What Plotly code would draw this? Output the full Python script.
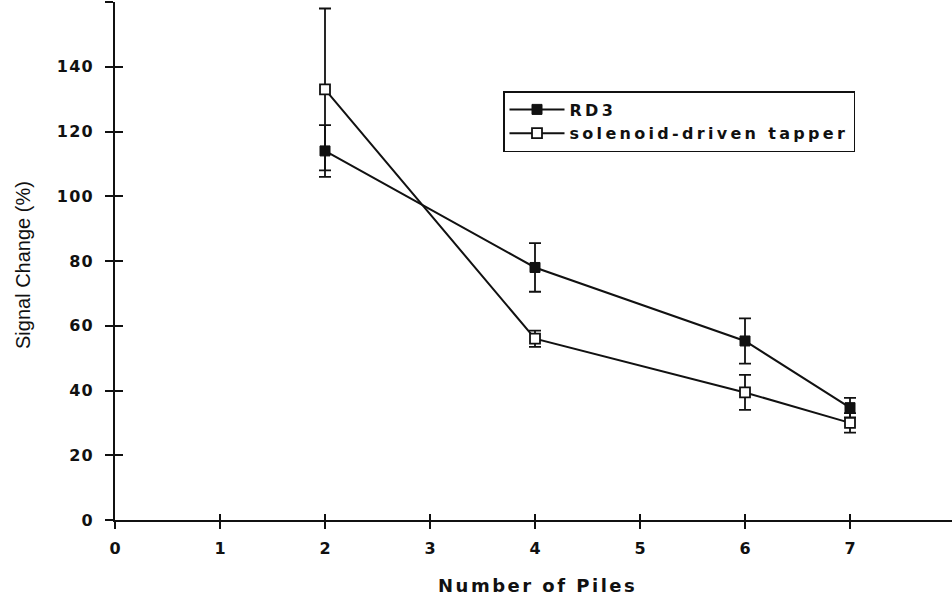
import plotly.graph_objects as go

# Data
piles = [2, 4, 6, 7]
rd3 = [114, 78, 55.3, 34.7]
rd3_err = [8, 7.5, 7, 3]
tapper = [133, 56, 39.4, 30]
tapper_err = [25, 2.5, 5.4, 3]

x_ticks = [0, 1, 2, 3, 4, 5, 6, 7, 8]
y_ticks = [0, 20, 40, 60, 80, 100, 120, 140, 160]

FONT = "DejaVu Sans"
INK = "#111111"


def spaced(s, px):
    return f'<span style="letter-spacing:{px}px">{s}</span>'


fig = go.Figure()

fig.add_trace(go.Scatter(
    x=piles, y=rd3, name=spaced("RD3", 3.3), mode="lines+markers",
    line=dict(color=INK, width=2),
    marker=dict(symbol="square", size=10, color=INK, line=dict(color=INK, width=1)),
    error_y=dict(type="data", array=rd3_err, visible=True, color=INK, thickness=1.8, width=6),
    legendgroup="a",
))
fig.add_trace(go.Scatter(
    x=piles, y=tapper, name=spaced("solenoid-driven tapper", 3.3), mode="lines+markers",
    line=dict(color=INK, width=2),
    marker=dict(symbol="square", size=10, color="white", line=dict(color=INK, width=1.8)),
    error_y=dict(type="data", array=tapper_err, visible=True, color=INK, thickness=1.8, width=6),
    legendgroup="b",
))
# invisible trace to activate the overlay axes (inner half of crossing ticks)
fig.add_trace(go.Scatter(x=[None], y=[None], xaxis="x2", yaxis="y2", showlegend=False,
                         hoverinfo="skip"))

XR = [0, 837 / 105.0]
YR = [0, 160]

tickfont = dict(family=FONT, size=16, color=INK, weight="bold")
y_text = [spaced(str(v), 1.2) for v in y_ticks]
x_text = [str(v) for v in x_ticks]

fig.update_layout(
    width=952, height=598,
    margin=dict(l=115, r=0, t=2, b=78),
    paper_bgcolor="white", plot_bgcolor="white",
    showlegend=True,
    legend=dict(
        x=(503 - 115) / 837, y=1 - (91 - 2) / 518, xanchor="left", yanchor="top",
        bordercolor=INK, borderwidth=1.5, bgcolor="white",
        font=dict(family=FONT, size=16, color=INK, weight="bold"),
        traceorder="grouped", tracegroupgap=0, itemwidth=55,
    ),
    xaxis=dict(
        range=XR, tickvals=x_ticks, ticktext=x_text, ticks="outside", ticklen=7, tickwidth=1.5,
        tickcolor=INK, showline=True, linecolor=INK, linewidth=2, showgrid=False,
        zeroline=False, tickfont=tickfont, ticklabelstandoff=6,
    ),
    yaxis=dict(
        range=YR, tickvals=y_ticks, ticktext=y_text, ticks="outside", ticklen=8, tickwidth=1.5,
        tickcolor=INK, showline=True, linecolor=INK, linewidth=2, showgrid=False,
        zeroline=False, tickfont=tickfont, ticklabelstandoff=8,
    ),
    xaxis2=dict(
        range=XR, tickvals=x_ticks, overlaying="x", anchor="y2", ticks="inside",
        ticklen=6, tickwidth=1.5, tickcolor=INK, showticklabels=False,
        showline=False, showgrid=False, zeroline=False,
    ),
    yaxis2=dict(
        range=YR, tickvals=y_ticks, overlaying="y", anchor="x2", side="left",
        ticks="inside", ticklen=8, tickwidth=1.5, tickcolor=INK,
        showticklabels=False, showline=False, showgrid=False, zeroline=False,
    ),
    annotations=[
        dict(text=spaced("Number of Piles", 2.5), xref="paper", yref="paper",
             x=(537 - 115) / 837, y=-(585 - 520) / 518, xanchor="center", yanchor="middle",
             showarrow=False, font=dict(family=FONT, size=18, color=INK, weight="bold")),
        dict(text="Signal Change (%)", xref="paper", yref="paper",
             x=(23 - 115) / 837, y=1 - (265 - 2) / 518, xanchor="center", yanchor="middle",
             textangle=-90, showarrow=False,
             font=dict(family="Liberation Sans", size=20, color=INK)),
    ],
)

fig.write_html("out.html", config={"displayModeBar": False},
               post_script="document.body.style.margin='0';")
